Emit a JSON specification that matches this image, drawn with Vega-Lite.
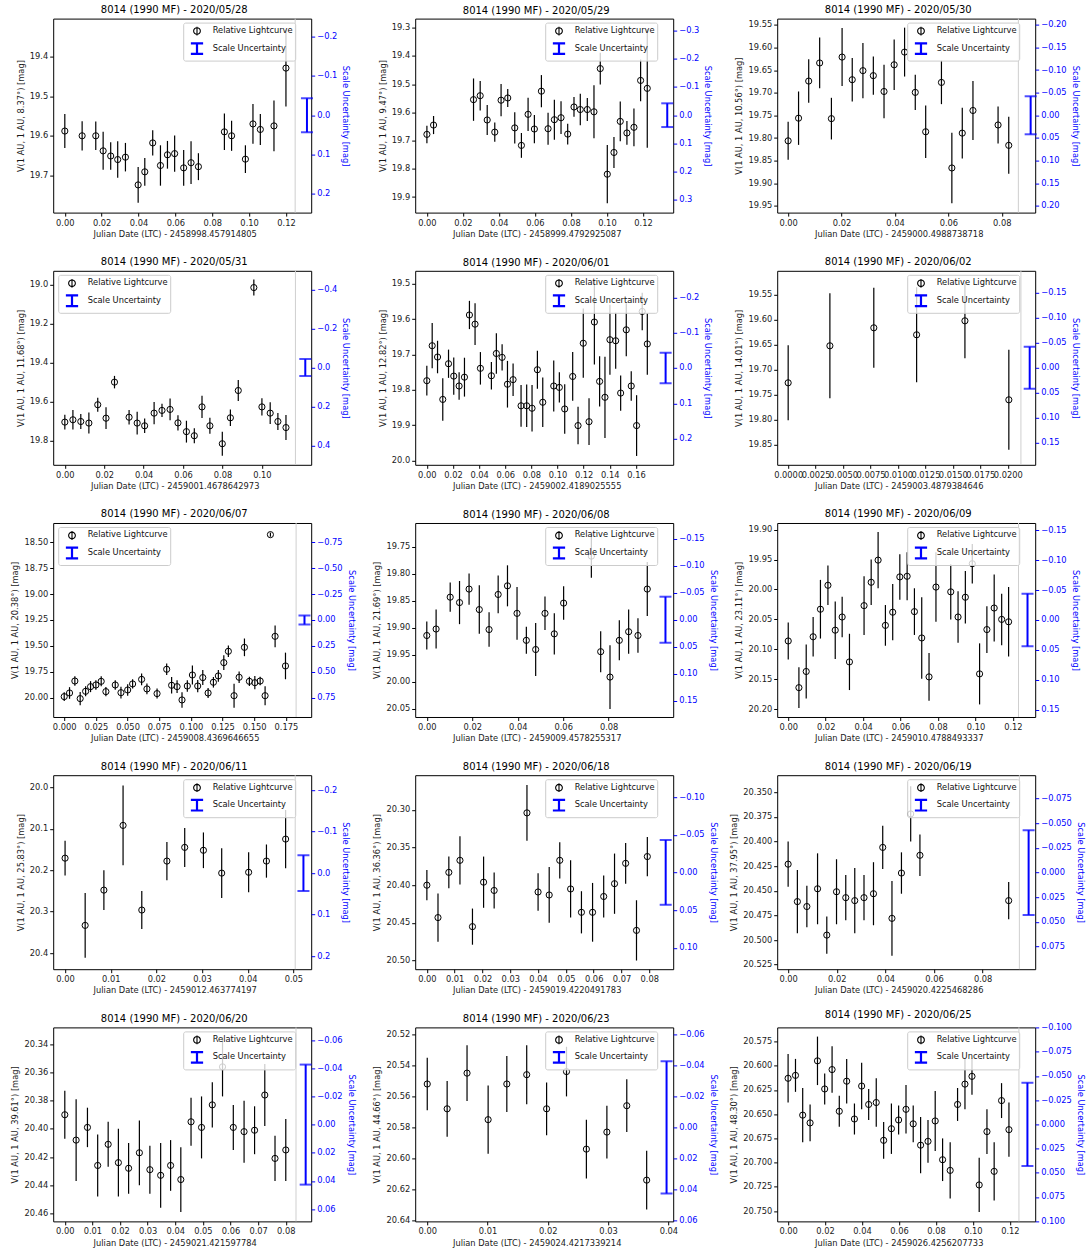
{
"$schema": "https://vega.github.io/schema/vega-lite/v6.json",
"background": "white",
"padding": {"left": 10.2, "top": 4.6, "right": 5, "bottom": 5},
"columns": 3,
"spacing": {"row": 58.2, "column": 104},
"bounds": "flush",
"resolve": {"scale": {"shape": "independent", "stroke": "independent", "strokeWidth": "independent"}},
"datasets": {
"leg": [{"series": "Relative Lightcurve"}, {"series": "Scale Uncertainty"}],
"d1": [{"t":0,"m":19.588,"e":0.043},{"t":0.0094,"m":19.6,"e":0.037},{"t":0.0168,"m":19.6,"e":0.036},{"t":0.0208,"m":19.638,"e":0.048},{"t":0.0249,"m":19.651,"e":0.035},{"t":0.0287,"m":19.66,"e":0.046},{"t":0.0329,"m":19.654,"e":0.036},{"t":0.0398,"m":19.724,"e":0.045},{"t":0.0434,"m":19.691,"e":0.035},{"t":0.0477,"m":19.618,"e":0.032},{"t":0.0519,"m":19.675,"e":0.051},{"t":0.0557,"m":19.648,"e":0.035},{"t":0.0596,"m":19.645,"e":0.046},{"t":0.0645,"m":19.681,"e":0.045},{"t":0.0685,"m":19.668,"e":0.054},{"t":0.0725,"m":19.678,"e":0.034},{"t":0.0866,"m":19.59,"e":0.046},{"t":0.0905,"m":19.6,"e":0.038},{"t":0.098,"m":19.659,"e":0.035},{"t":0.1021,"m":19.57,"e":0.05},{"t":0.1061,"m":19.584,"e":0.039},{"t":0.1135,"m":19.575,"e":0.064},{"t":0.12,"m":19.429,"e":0.097}],
"d2": [{"t":0,"m":19.678,"e":0.031},{"t":0.0037,"m":19.645,"e":0.032},{"t":0.0259,"m":19.555,"e":0.075},{"t":0.0296,"m":19.541,"e":0.052},{"t":0.0335,"m":19.627,"e":0.053},{"t":0.0377,"m":19.67,"e":0.034},{"t":0.0412,"m":19.557,"e":0.057},{"t":0.0449,"m":19.549,"e":0.032},{"t":0.0488,"m":19.655,"e":0.055},{"t":0.0525,"m":19.717,"e":0.044},{"t":0.0562,"m":19.607,"e":0.059},{"t":0.0597,"m":19.659,"e":0.05},{"t":0.0636,"m":19.525,"e":0.057},{"t":0.0673,"m":19.658,"e":0.057},{"t":0.0708,"m":19.626,"e":0.071},{"t":0.0745,"m":19.619,"e":0.058},{"t":0.0782,"m":19.677,"e":0.037},{"t":0.0817,"m":19.581,"e":0.035},{"t":0.0852,"m":19.59,"e":0.056},{"t":0.0891,"m":19.59,"e":0.041},{"t":0.0928,"m":19.598,"e":0.094},{"t":0.0963,"m":19.445,"e":0.056},{"t":0.1002,"m":19.819,"e":0.103},{"t":0.1039,"m":19.742,"e":0.055},{"t":0.1074,"m":19.632,"e":0.07},{"t":0.1111,"m":19.673,"e":0.042},{"t":0.115,"m":19.653,"e":0.067},{"t":0.1187,"m":19.487,"e":0.074},{"t":0.1224,"m":19.515,"e":0.21}],
"d3": [{"t":0,"m":19.806,"e":0.042},{"t":0.0039,"m":19.756,"e":0.059},{"t":0.0077,"m":19.674,"e":0.048},{"t":0.0118,"m":19.634,"e":0.056},{"t":0.0162,"m":19.757,"e":0.046},{"t":0.0202,"m":19.621,"e":0.064},{"t":0.024,"m":19.671,"e":0.048},{"t":0.028,"m":19.651,"e":0.061},{"t":0.0319,"m":19.662,"e":0.042},{"t":0.0359,"m":19.697,"e":0.059},{"t":0.0397,"m":19.638,"e":0.056},{"t":0.0436,"m":19.61,"e":0.054},{"t":0.0476,"m":19.699,"e":0.039},{"t":0.0515,"m":19.786,"e":0.058},{"t":0.0574,"m":19.677,"e":0.048},{"t":0.0613,"m":19.866,"e":0.078},{"t":0.0652,"m":19.789,"e":0.056},{"t":0.0692,"m":19.739,"e":0.065},{"t":0.0786,"m":19.771,"e":0.041},{"t":0.0826,"m":19.816,"e":0.063}],
"d4": [{"t":0,"m":19.704,"e":0.038},{"t":0.0041,"m":19.692,"e":0.05},{"t":0.0081,"m":19.701,"e":0.039},{"t":0.0122,"m":19.709,"e":0.054},{"t":0.0167,"m":19.615,"e":0.036},{"t":0.0209,"m":19.684,"e":0.056},{"t":0.0252,"m":19.499,"e":0.032},{"t":0.0326,"m":19.679,"e":0.037},{"t":0.0367,"m":19.709,"e":0.058},{"t":0.0405,"m":19.723,"e":0.037},{"t":0.0453,"m":19.658,"e":0.057},{"t":0.0493,"m":19.644,"e":0.034},{"t":0.0534,"m":19.639,"e":0.056},{"t":0.0574,"m":19.708,"e":0.039},{"t":0.0617,"m":19.753,"e":0.056},{"t":0.0657,"m":19.774,"e":0.039},{"t":0.0696,"m":19.626,"e":0.057},{"t":0.0736,"m":19.723,"e":0.041},{"t":0.0799,"m":19.815,"e":0.062},{"t":0.084,"m":19.682,"e":0.042},{"t":0.088,"m":19.542,"e":0.054},{"t":0.0959,"m":19.014,"e":0.041},{"t":0.1,"m":19.626,"e":0.044},{"t":0.1042,"m":19.658,"e":0.056},{"t":0.1081,"m":19.701,"e":0.044},{"t":0.1122,"m":19.732,"e":0.064}],
"d5": [{"t":0,"m":19.774,"e":0.042},{"t":0.0041,"m":19.675,"e":0.064},{"t":0.0082,"m":19.707,"e":0.046},{"t":0.0122,"m":19.827,"e":0.06},{"t":0.0166,"m":19.726,"e":0.04},{"t":0.0206,"m":19.761,"e":0.053},{"t":0.0247,"m":19.789,"e":0.039},{"t":0.0288,"m":19.764,"e":0.055},{"t":0.0326,"m":19.588,"e":0.04},{"t":0.0369,"m":19.614,"e":0.059},{"t":0.041,"m":19.739,"e":0.046},{"t":0.0494,"m":19.76,"e":0.039},{"t":0.0532,"m":19.697,"e":0.057},{"t":0.0576,"m":19.708,"e":0.037},{"t":0.0617,"m":19.784,"e":0.066},{"t":0.066,"m":19.771,"e":0.046},{"t":0.0721,"m":19.845,"e":0.059},{"t":0.0764,"m":19.845,"e":0.06},{"t":0.0805,"m":19.852,"e":0.066},{"t":0.0846,"m":19.743,"e":0.054},{"t":0.0887,"m":19.835,"e":0.07},{"t":0.0971,"m":19.789,"e":0.072},{"t":0.1014,"m":19.793,"e":0.043},{"t":0.1055,"m":19.854,"e":0.07},{"t":0.1116,"m":19.762,"e":0.069},{"t":0.1157,"m":19.901,"e":0.053},{"t":0.1197,"m":19.668,"e":0.098},{"t":0.1241,"m":19.89,"e":0.066},{"t":0.1282,"m":19.608,"e":0.12},{"t":0.1322,"m":19.776,"e":0.071},{"t":0.1363,"m":19.821,"e":0.115},{"t":0.1401,"m":19.658,"e":0.099},{"t":0.1445,"m":19.661,"e":0.079},{"t":0.1483,"m":19.809,"e":0.05},{"t":0.1526,"m":19.63,"e":0.075},{"t":0.1564,"m":19.789,"e":0.042},{"t":0.1605,"m":19.901,"e":0.086},{"t":0.1648,"m":19.578,"e":0.053},{"t":0.1687,"m":19.67,"e":0.087}],
"d6": [{"t":0,"m":19.726,"e":0.075},{"t":0.0038,"m":19.652,"e":0.105},{"t":0.0078,"m":19.616,"e":0.08},{"t":0.0117,"m":19.63,"e":0.095},{"t":0.0161,"m":19.602,"e":0.075},{"t":0.0201,"m":19.76,"e":0.1}],
"d7": [{"t":0,"m":19.987,"e":0.043},{"t":0.0042,"m":19.952,"e":0.056},{"t":0.0084,"m":19.837,"e":0.046},{"t":0.0126,"m":20.006,"e":0.064},{"t":0.0169,"m":19.936,"e":0.048},{"t":0.0208,"m":19.891,"e":0.053},{"t":0.025,"m":19.875,"e":0.045},{"t":0.0292,"m":19.84,"e":0.048},{"t":0.0329,"m":19.939,"e":0.045},{"t":0.0403,"m":19.875,"e":0.045},{"t":0.0448,"m":19.949,"e":0.056},{"t":0.0501,"m":19.923,"e":0.056},{"t":0.054,"m":19.865,"e":0.045},{"t":0.0611,"m":19.821,"e":0.056},{"t":0.0653,"m":19.913,"e":0.051},{"t":0.0733,"m":19.958,"e":0.048},{"t":0.0809,"m":19.724,"e":0.056},{"t":0.0848,"m":19.878,"e":0.08},{"t":0.0891,"m":19.891,"e":0.061},{"t":0.093,"m":20.019,"e":0.075},{"t":0.0972,"m":19.885,"e":0.056},{"t":0.1012,"m":19.779,"e":0.091},{"t":0.1054,"m":19.885,"e":0.059},{"t":0.1094,"m":19.804,"e":0.072},{"t":0.1136,"m":19.952,"e":0.048},{"t":0.1178,"m":19.849,"e":0.051},{"t":0.1217,"m":19.788,"e":0.056},{"t":0.126,"m":19.66,"e":0.072},{"t":0.1296,"m":19.551,"e":0.056},{"t":0.1341,"m":19.978,"e":0.115},{"t":0.1381,"m":19.801,"e":0.056},{"t":0.1423,"m":19.513,"e":0.085},{"t":0.1462,"m":19.84,"e":0.045},{"t":0.1505,"m":19.853,"e":0.064},{"t":0.1547,"m":19.837,"e":0.04},{"t":0.1586,"m":19.978,"e":0.091},{"t":0.1628,"m":18.429,"e":0.02},{"t":0.1665,"m":19.407,"e":0.104},{"t":0.1747,"m":19.692,"e":0.128}],
"d8": [{"t":0,"m":19.914,"e":0.026},{"t":0.0041,"m":19.902,"e":0.036},{"t":0.0103,"m":19.843,"e":0.027},{"t":0.0144,"m":19.853,"e":0.04},{"t":0.0186,"m":19.828,"e":0.029},{"t":0.0231,"m":19.866,"e":0.045},{"t":0.0274,"m":19.903,"e":0.032},{"t":0.0314,"m":19.838,"e":0.035},{"t":0.0355,"m":19.822,"e":0.038},{"t":0.0397,"m":19.873,"e":0.049},{"t":0.0438,"m":19.923,"e":0.025},{"t":0.0479,"m":19.94,"e":0.049},{"t":0.052,"m":19.873,"e":0.031},{"t":0.0561,"m":19.911,"e":0.038},{"t":0.0602,"m":19.854,"e":0.031},{"t":0.0724,"m":19.767,"e":0.04},{"t":0.0765,"m":19.944,"e":0.038},{"t":0.0806,"m":19.991,"e":0.059},{"t":0.0847,"m":19.923,"e":0.037},{"t":0.0888,"m":19.907,"e":0.041},{"t":0.0929,"m":19.914,"e":0.032},{"t":0.097,"m":19.828,"e":0.05}],
"d9": [{"t":0,"m":20.086,"e":0.031},{"t":0.0057,"m":20.164,"e":0.034},{"t":0.0096,"m":20.137,"e":0.045},{"t":0.0133,"m":20.079,"e":0.033},{"t":0.0172,"m":20.033,"e":0.049},{"t":0.0212,"m":19.993,"e":0.033},{"t":0.0251,"m":20.068,"e":0.048},{"t":0.0288,"m":20.046,"e":0.034},{"t":0.0327,"m":20.121,"e":0.047},{"t":0.0405,"m":20.027,"e":0.049},{"t":0.0443,"m":19.988,"e":0.038},{"t":0.048,"m":19.951,"e":0.047},{"t":0.0519,"m":20.06,"e":0.034},{"t":0.0558,"m":20.038,"e":0.047},{"t":0.0596,"m":19.979,"e":0.038},{"t":0.0635,"m":19.978,"e":0.04},{"t":0.0674,"m":20.037,"e":0.039},{"t":0.0713,"m":20.081,"e":0.068},{"t":0.0752,"m":20.146,"e":0.04},{"t":0.0789,"m":19.996,"e":0.058},{"t":0.0868,"m":20.004,"e":0.046},{"t":0.0907,"m":20.046,"e":0.043},{"t":0.0946,"m":20.013,"e":0.044},{"t":0.0983,"m":19.957,"e":0.033},{"t":0.1022,"m":20.141,"e":0.051},{"t":0.1061,"m":20.067,"e":0.039},{"t":0.11,"m":20.031,"e":0.056},{"t":0.114,"m":20.05,"e":0.043},{"t":0.1177,"m":20.054,"e":0.058}],
"d10": [{"t":0,"m":20.171,"e":0.042},{"t":0.0044,"m":20.333,"e":0.078},{"t":0.0085,"m":20.248,"e":0.048},{"t":0.0127,"m":20.092,"e":0.096},{"t":0.0168,"m":20.296,"e":0.046},{"t":0.0223,"m":20.178,"e":0.046},{"t":0.0262,"m":20.145,"e":0.047},{"t":0.0303,"m":20.152,"e":0.043},{"t":0.0343,"m":20.207,"e":0.06},{"t":0.0402,"m":20.205,"e":0.048},{"t":0.0441,"m":20.178,"e":0.04},{"t":0.0483,"m":20.125,"e":0.07}],
"d11": [{"t":0,"m":20.4,"e":0.02},{"t":0.004,"m":20.443,"e":0.032},{"t":0.0079,"m":20.383,"e":0.021},{"t":0.0119,"m":20.367,"e":0.032},{"t":0.0164,"m":20.455,"e":0.024},{"t":0.0204,"m":20.396,"e":0.034},{"t":0.0242,"m":20.407,"e":0.024},{"t":0.036,"m":20.304,"e":0.037},{"t":0.04,"m":20.409,"e":0.025},{"t":0.044,"m":20.413,"e":0.037},{"t":0.0478,"m":20.367,"e":0.024},{"t":0.0517,"m":20.405,"e":0.038},{"t":0.0556,"m":20.436,"e":0.028},{"t":0.0596,"m":20.436,"e":0.039},{"t":0.0636,"m":20.415,"e":0.028},{"t":0.0675,"m":20.398,"e":0.04},{"t":0.0715,"m":20.371,"e":0.027},{"t":0.0754,"m":20.46,"e":0.04},{"t":0.0793,"m":20.362,"e":0.026}],
"d12": [{"t":0,"m":20.423,"e":0.023},{"t":0.0038,"m":20.461,"e":0.032},{"t":0.0077,"m":20.466,"e":0.021},{"t":0.0121,"m":20.448,"e":0.036},{"t":0.0159,"m":20.495,"e":0.019},{"t":0.0199,"m":20.451,"e":0.033},{"t":0.0237,"m":20.457,"e":0.023},{"t":0.0274,"m":20.46,"e":0.033},{"t":0.0312,"m":20.457,"e":0.023},{"t":0.0351,"m":20.453,"e":0.032},{"t":0.0389,"m":20.406,"e":0.022},{"t":0.0427,"m":20.478,"e":0.038},{"t":0.0466,"m":20.432,"e":0.021},{"t":0.0504,"m":20.372,"e":0.028},{"t":0.0542,"m":20.414,"e":0.021},{"t":0.0907,"m":20.46,"e":0.019}],
"d13": [{"t":0,"m":20.39,"e":0.017},{"t":0.0041,"m":20.408,"e":0.029},{"t":0.0082,"m":20.399,"e":0.014},{"t":0.0119,"m":20.426,"e":0.022},{"t":0.0157,"m":20.411,"e":0.016},{"t":0.0194,"m":20.424,"e":0.024},{"t":0.0231,"m":20.428,"e":0.018},{"t":0.027,"m":20.417,"e":0.023},{"t":0.0308,"m":20.429,"e":0.017},{"t":0.0347,"m":20.433,"e":0.023},{"t":0.0383,"m":20.426,"e":0.018},{"t":0.042,"m":20.436,"e":0.023},{"t":0.0457,"m":20.395,"e":0.017},{"t":0.0495,"m":20.399,"e":0.022},{"t":0.0534,"m":20.383,"e":0.016},{"t":0.0571,"m":20.356,"e":0.021},{"t":0.061,"m":20.399,"e":0.016},{"t":0.0649,"m":20.402,"e":0.022},{"t":0.0687,"m":20.401,"e":0.017},{"t":0.0724,"m":20.376,"e":0.022},{"t":0.0761,"m":20.421,"e":0.016},{"t":0.08,"m":20.415,"e":0.022}],
"d14": [{"t":0,"m":20.552,"e":0.017},{"t":0.0033,"m":20.568,"e":0.018},{"t":0.0066,"m":20.545,"e":0.018},{"t":0.0101,"m":20.575,"e":0.022},{"t":0.0132,"m":20.552,"e":0.018},{"t":0.0165,"m":20.546,"e":0.019},{"t":0.0198,"m":20.568,"e":0.017},{"t":0.0231,"m":20.544,"e":0.016},{"t":0.0264,"m":20.594,"e":0.019},{"t":0.0298,"m":20.583,"e":0.017},{"t":0.0331,"m":20.566,"e":0.017},{"t":0.0364,"m":20.614,"e":0.019}],
"d15": [{"t":0,"m":20.613,"e":0.025},{"t":0.004,"m":20.61,"e":0.017},{"t":0.0079,"m":20.651,"e":0.028},{"t":0.0119,"m":20.659,"e":0.019},{"t":0.0159,"m":20.595,"e":0.025},{"t":0.0198,"m":20.624,"e":0.016},{"t":0.0238,"m":20.604,"e":0.024},{"t":0.0277,"m":20.647,"e":0.016},{"t":0.0317,"m":20.616,"e":0.023},{"t":0.0359,"m":20.655,"e":0.016},{"t":0.0398,"m":20.621,"e":0.024},{"t":0.0436,"m":20.64,"e":0.016},{"t":0.0477,"m":20.638,"e":0.025},{"t":0.0517,"m":20.677,"e":0.019},{"t":0.0559,"m":20.665,"e":0.026},{"t":0.0598,"m":20.656,"e":0.015},{"t":0.0638,"m":20.645,"e":0.025},{"t":0.0677,"m":20.66,"e":0.019},{"t":0.0717,"m":20.682,"e":0.029},{"t":0.0757,"m":20.678,"e":0.022},{"t":0.0796,"m":20.657,"e":0.031},{"t":0.0836,"m":20.697,"e":0.022},{"t":0.0877,"m":20.708,"e":0.029},{"t":0.0917,"m":20.64,"e":0.017},{"t":0.0957,"m":20.619,"e":0.026},{"t":0.0995,"m":20.611,"e":0.019},{"t":0.1034,"m":20.723,"e":0.028},{"t":0.1076,"m":20.668,"e":0.023},{"t":0.1115,"m":20.709,"e":0.03},{"t":0.1155,"m":20.636,"e":0.018},{"t":0.1195,"m":20.666,"e":0.028}]
},
"concat": [
{"title": "8014 (1990 MF) - 2020/05/28", "width": 258, "height": 194, "resolve": {"scale": {"y": "independent"}},
 "layer": [
  {"layer": [
   {"data": {"name": "d1"}, "mark": {"type": "errorbar", "color": "black", "thickness": 1.2},
    "encoding": {"x": {"field": "t", "type": "quantitative", "scale": {"domain": [-0.0063, 0.1337], "nice": false, "zero": false}, "axis": {"labelOverlap": false, "tickCount": 30, "values": [0,0.02,0.04,0.06,0.08,0.1,0.12], "format": ".2f", "title": "Julian Date (LTC) - 2458998.457914805"}},
     "y": {"field": "m", "type": "quantitative", "scale": {"domain": [19.304, 19.794], "reverse": true, "nice": false, "zero": false}, "axis": {"labelOverlap": false, "tickCount": 30, "values": [19.4,19.5,19.6,19.7], "format": ".1f", "title": "V(1 AU, 1 AU, 8.37°) [mag]"}},
     "yError": {"field": "e"}}},
   {"data": {"name": "d1"}, "mark": {"type": "point", "shape": "circle", "filled": false, "color": "black", "size": 38, "strokeWidth": 1, "opacity": 1},
    "encoding": {"x": {"field": "t", "type": "quantitative"}, "y": {"field": "m", "type": "quantitative"}}},
   {"data": {"values": [{}]}, "mark": {"type": "rule", "color": "#cfcfcf", "strokeWidth": 1}, "encoding": {"x": {"datum": 0.125}}},
   {"data": {"name": "leg"}, "mark": {"type": "point", "filled": false, "opacity": 0},
    "encoding": {
     "shape": {"field": "series", "type": "nominal", "scale": {"domain": ["Relative Lightcurve", "Scale Uncertainty"], "range": ["M-0.55,0A0.55,0.55 0 1,1 0.55,0A0.55,0.55 0 1,1 -0.55,0ZM0,-0.72L0,0.72", "M-1,-0.87L1,-0.87M0,-0.87L0,0.87M-1,0.87L1,0.87"]}, "legend": {"title": null, "orient": "none", "legendX": 130, "legendY": 4}},
     "stroke": {"field": "series", "type": "nominal", "scale": {"domain": ["Relative Lightcurve", "Scale Uncertainty"], "range": ["black", "blue"]}, "legend": {"title": null, "orient": "none", "legendX": 130, "legendY": 4}},
     "strokeWidth": {"field": "series", "type": "nominal", "scale": {"type": "point", "domain": ["Relative Lightcurve", "Scale Uncertainty"], "range": [1.1, 2.2]}, "legend": {"title": null, "orient": "none", "legendX": 130, "legendY": 4}}}}
  ]},
  {"data": {"values": [{"t": 0.1314, "o": 0, "e": 0.043}]}, "mark": {"type": "errorbar", "color": "blue", "ticks": true, "thickness": 2, "size": 12},
   "encoding": {"x": {"field": "t", "type": "quantitative"},
    "y": {"field": "o", "type": "quantitative", "scale": {"domain": [-0.2458, 0.2475], "reverse": true, "nice": false, "zero": false}, "axis": {"labelOverlap": false, "tickCount": 30, "orient": "right", "values": [-0.2,-0.1,0,0.1,0.2], "format": ".1f", "title": "Scale Uncertainty [mag]", "labelColor": "blue", "tickColor": "blue", "titleColor": "blue"}},
    "yError": {"field": "e"}}}
 ]},
{"title": "8014 (1990 MF) - 2020/05/29", "width": 258, "height": 194, "resolve": {"scale": {"y": "independent"}},
 "layer": [
  {"layer": [
   {"data": {"name": "d2"}, "mark": {"type": "errorbar", "color": "black", "thickness": 1.2},
    "encoding": {"x": {"field": "t", "type": "quantitative", "scale": {"domain": [-0.0065, 0.1368], "nice": false, "zero": false}, "axis": {"labelOverlap": false, "tickCount": 30, "values": [0,0.02,0.04,0.06,0.08,0.1,0.12], "format": ".2f", "title": "Julian Date (LTC) - 2458999.4792925087"}},
     "y": {"field": "m", "type": "quantitative", "scale": {"domain": [19.268, 19.955], "reverse": true, "nice": false, "zero": false}, "axis": {"labelOverlap": false, "tickCount": 30, "values": [19.3,19.4,19.5,19.6,19.7,19.8,19.9], "format": ".1f", "title": "V(1 AU, 1 AU, 9.47°) [mag]"}},
     "yError": {"field": "e"}}},
   {"data": {"name": "d2"}, "mark": {"type": "point", "shape": "circle", "filled": false, "color": "black", "size": 38, "strokeWidth": 1, "opacity": 1},
    "encoding": {"x": {"field": "t", "type": "quantitative"}, "y": {"field": "m", "type": "quantitative"}}},
   {"data": {"name": "leg"}, "mark": {"type": "point", "filled": false, "opacity": 0},
    "encoding": {
     "shape": {"field": "series", "type": "nominal", "scale": {"domain": ["Relative Lightcurve", "Scale Uncertainty"], "range": ["M-0.55,0A0.55,0.55 0 1,1 0.55,0A0.55,0.55 0 1,1 -0.55,0ZM0,-0.72L0,0.72", "M-1,-0.87L1,-0.87M0,-0.87L0,0.87M-1,0.87L1,0.87"]}, "legend": {"title": null, "orient": "none", "legendX": 130, "legendY": 4}},
     "stroke": {"field": "series", "type": "nominal", "scale": {"domain": ["Relative Lightcurve", "Scale Uncertainty"], "range": ["black", "blue"]}, "legend": {"title": null, "orient": "none", "legendX": 130, "legendY": 4}},
     "strokeWidth": {"field": "series", "type": "nominal", "scale": {"type": "point", "domain": ["Relative Lightcurve", "Scale Uncertainty"], "range": [1.1, 2.2]}, "legend": {"title": null, "orient": "none", "legendX": 130, "legendY": 4}}}}
  ]},
  {"data": {"values": [{"t": 0.1335, "o": 0, "e": 0.042}]}, "mark": {"type": "errorbar", "color": "blue", "ticks": true, "thickness": 2, "size": 12},
   "encoding": {"x": {"field": "t", "type": "quantitative"},
    "y": {"field": "o", "type": "quantitative", "scale": {"domain": [-0.342, 0.345], "reverse": true, "nice": false, "zero": false}, "axis": {"labelOverlap": false, "tickCount": 30, "orient": "right", "values": [-0.3,-0.2,-0.1,0,0.1,0.2,0.3], "format": ".1f", "title": "Scale Uncertainty [mag]", "labelColor": "blue", "tickColor": "blue", "titleColor": "blue"}},
    "yError": {"field": "e"}}}
 ]},
{"title": "8014 (1990 MF) - 2020/05/30", "width": 258, "height": 194, "resolve": {"scale": {"y": "independent"}},
 "layer": [
  {"layer": [
   {"data": {"name": "d3"}, "mark": {"type": "errorbar", "color": "black", "thickness": 1.2},
    "encoding": {"x": {"field": "t", "type": "quantitative", "scale": {"domain": [-0.0041, 0.0925], "nice": false, "zero": false}, "axis": {"labelOverlap": false, "tickCount": 30, "values": [0,0.02,0.04,0.06,0.08], "format": ".2f", "title": "Julian Date (LTC) - 2459000.4988738718"}},
     "y": {"field": "m", "type": "quantitative", "scale": {"domain": [19.536, 19.9646], "reverse": true, "nice": false, "zero": false}, "axis": {"labelOverlap": false, "tickCount": 30, "values": [19.55,19.6,19.65,19.7,19.75,19.8,19.85,19.9,19.95], "format": ".2f", "title": "V(1 AU, 1 AU, 10.56°) [mag]"}},
     "yError": {"field": "e"}}},
   {"data": {"name": "d3"}, "mark": {"type": "point", "shape": "circle", "filled": false, "color": "black", "size": 38, "strokeWidth": 1, "opacity": 1},
    "encoding": {"x": {"field": "t", "type": "quantitative"}, "y": {"field": "m", "type": "quantitative"}}},
   {"data": {"values": [{}]}, "mark": {"type": "rule", "color": "#cfcfcf", "strokeWidth": 1}, "encoding": {"x": {"datum": 0.0862}}},
   {"data": {"name": "leg"}, "mark": {"type": "point", "filled": false, "opacity": 0},
    "encoding": {
     "shape": {"field": "series", "type": "nominal", "scale": {"domain": ["Relative Lightcurve", "Scale Uncertainty"], "range": ["M-0.55,0A0.55,0.55 0 1,1 0.55,0A0.55,0.55 0 1,1 -0.55,0ZM0,-0.72L0,0.72", "M-1,-0.87L1,-0.87M0,-0.87L0,0.87M-1,0.87L1,0.87"]}, "legend": {"title": null, "orient": "none", "legendX": 130, "legendY": 4}},
     "stroke": {"field": "series", "type": "nominal", "scale": {"domain": ["Relative Lightcurve", "Scale Uncertainty"], "range": ["black", "blue"]}, "legend": {"title": null, "orient": "none", "legendX": 130, "legendY": 4}},
     "strokeWidth": {"field": "series", "type": "nominal", "scale": {"type": "point", "domain": ["Relative Lightcurve", "Scale Uncertainty"], "range": [1.1, 2.2]}, "legend": {"title": null, "orient": "none", "legendX": 130, "legendY": 4}}}}
  ]},
  {"data": {"values": [{"t": 0.0908, "o": 0, "e": 0.042}]}, "mark": {"type": "errorbar", "color": "blue", "ticks": true, "thickness": 2, "size": 12},
   "encoding": {"x": {"field": "t", "type": "quantitative"},
    "y": {"field": "o", "type": "quantitative", "scale": {"domain": [-0.2136, 0.215], "reverse": true, "nice": false, "zero": false}, "axis": {"labelOverlap": false, "tickCount": 30, "orient": "right", "values": [-0.2,-0.15,-0.1,-0.05,0,0.05,0.1,0.15,0.2], "format": ".2f", "title": "Scale Uncertainty [mag]", "labelColor": "blue", "tickColor": "blue", "titleColor": "blue"}},
    "yError": {"field": "e"}}}
 ]},
{"title": "8014 (1990 MF) - 2020/05/31", "width": 258, "height": 194, "resolve": {"scale": {"y": "independent"}},
 "layer": [
  {"layer": [
   {"data": {"name": "d4"}, "mark": {"type": "errorbar", "color": "black", "thickness": 1.2},
    "encoding": {"x": {"field": "t", "type": "quantitative", "scale": {"domain": [-0.0059, 0.125], "nice": false, "zero": false}, "axis": {"labelOverlap": false, "tickCount": 30, "values": [0,0.02,0.04,0.06,0.08,0.1], "format": ".2f", "title": "Julian Date (LTC) - 2459001.4678642973"}},
     "y": {"field": "m", "type": "quantitative", "scale": {"domain": [18.928, 19.923], "reverse": true, "nice": false, "zero": false}, "axis": {"labelOverlap": false, "tickCount": 30, "values": [19.0,19.2,19.4,19.6,19.8], "format": ".1f", "title": "V(1 AU, 1 AU, 11.68°) [mag]"}},
     "yError": {"field": "e"}}},
   {"data": {"name": "d4"}, "mark": {"type": "point", "shape": "circle", "filled": false, "color": "black", "size": 38, "strokeWidth": 1, "opacity": 1},
    "encoding": {"x": {"field": "t", "type": "quantitative"}, "y": {"field": "m", "type": "quantitative"}}},
   {"data": {"values": [{}]}, "mark": {"type": "rule", "color": "#cfcfcf", "strokeWidth": 1}, "encoding": {"x": {"datum": 0.117}}},
   {"data": {"name": "leg"}, "mark": {"type": "point", "filled": false, "opacity": 0},
    "encoding": {
     "shape": {"field": "series", "type": "nominal", "scale": {"domain": ["Relative Lightcurve", "Scale Uncertainty"], "range": ["M-0.55,0A0.55,0.55 0 1,1 0.55,0A0.55,0.55 0 1,1 -0.55,0ZM0,-0.72L0,0.72", "M-1,-0.87L1,-0.87M0,-0.87L0,0.87M-1,0.87L1,0.87"]}, "legend": {"title": null, "orient": "none", "legendX": 5, "legendY": 4}},
     "stroke": {"field": "series", "type": "nominal", "scale": {"domain": ["Relative Lightcurve", "Scale Uncertainty"], "range": ["black", "blue"]}, "legend": {"title": null, "orient": "none", "legendX": 5, "legendY": 4}},
     "strokeWidth": {"field": "series", "type": "nominal", "scale": {"type": "point", "domain": ["Relative Lightcurve", "Scale Uncertainty"], "range": [1.1, 2.2]}, "legend": {"title": null, "orient": "none", "legendX": 5, "legendY": 4}}}}
  ]},
  {"data": {"values": [{"t": 0.122, "o": 0, "e": 0.043}]}, "mark": {"type": "errorbar", "color": "blue", "ticks": true, "thickness": 2, "size": 12},
   "encoding": {"x": {"field": "t", "type": "quantitative"},
    "y": {"field": "o", "type": "quantitative", "scale": {"domain": [-0.496, 0.499], "reverse": true, "nice": false, "zero": false}, "axis": {"labelOverlap": false, "tickCount": 30, "orient": "right", "values": [-0.4,-0.2,0,0.2,0.4], "format": ".1f", "title": "Scale Uncertainty [mag]", "labelColor": "blue", "tickColor": "blue", "titleColor": "blue"}},
    "yError": {"field": "e"}}}
 ]},
{"title": "8014 (1990 MF) - 2020/06/01", "width": 258, "height": 194, "resolve": {"scale": {"y": "independent"}},
 "layer": [
  {"layer": [
   {"data": {"name": "d5"}, "mark": {"type": "errorbar", "color": "black", "thickness": 1.2},
    "encoding": {"x": {"field": "t", "type": "quantitative", "scale": {"domain": [-0.0089, 0.1885], "nice": false, "zero": false}, "axis": {"labelOverlap": false, "tickCount": 30, "values": [0,0.02,0.04,0.06,0.08,0.1,0.12,0.14,0.16], "format": ".2f", "title": "Julian Date (LTC) - 2459002.4189025555"}},
     "y": {"field": "m", "type": "quantitative", "scale": {"domain": [19.463, 20.012], "reverse": true, "nice": false, "zero": false}, "axis": {"labelOverlap": false, "tickCount": 30, "values": [19.5,19.6,19.7,19.8,19.9,20.0], "format": ".1f", "title": "V(1 AU, 1 AU, 12.82°) [mag]"}},
     "yError": {"field": "e"}}},
   {"data": {"name": "d5"}, "mark": {"type": "point", "shape": "circle", "filled": false, "color": "black", "size": 38, "strokeWidth": 1, "opacity": 1},
    "encoding": {"x": {"field": "t", "type": "quantitative"}, "y": {"field": "m", "type": "quantitative"}}},
   {"data": {"name": "leg"}, "mark": {"type": "point", "filled": false, "opacity": 0},
    "encoding": {
     "shape": {"field": "series", "type": "nominal", "scale": {"domain": ["Relative Lightcurve", "Scale Uncertainty"], "range": ["M-0.55,0A0.55,0.55 0 1,1 0.55,0A0.55,0.55 0 1,1 -0.55,0ZM0,-0.72L0,0.72", "M-1,-0.87L1,-0.87M0,-0.87L0,0.87M-1,0.87L1,0.87"]}, "legend": {"title": null, "orient": "none", "legendX": 130, "legendY": 4}},
     "stroke": {"field": "series", "type": "nominal", "scale": {"domain": ["Relative Lightcurve", "Scale Uncertainty"], "range": ["black", "blue"]}, "legend": {"title": null, "orient": "none", "legendX": 130, "legendY": 4}},
     "strokeWidth": {"field": "series", "type": "nominal", "scale": {"type": "point", "domain": ["Relative Lightcurve", "Scale Uncertainty"], "range": [1.1, 2.2]}, "legend": {"title": null, "orient": "none", "legendX": 130, "legendY": 4}}}}
  ]},
  {"data": {"values": [{"t": 0.1827, "o": 0, "e": 0.043}]}, "mark": {"type": "errorbar", "color": "blue", "ticks": true, "thickness": 2, "size": 12},
   "encoding": {"x": {"field": "t", "type": "quantitative"},
    "y": {"field": "o", "type": "quantitative", "scale": {"domain": [-0.275, 0.274], "reverse": true, "nice": false, "zero": false}, "axis": {"labelOverlap": false, "tickCount": 30, "orient": "right", "values": [-0.2,-0.1,0,0.1,0.2], "format": ".1f", "title": "Scale Uncertainty [mag]", "labelColor": "blue", "tickColor": "blue", "titleColor": "blue"}},
    "yError": {"field": "e"}}}
 ]},
{"title": "8014 (1990 MF) - 2020/06/02", "width": 258, "height": 194, "resolve": {"scale": {"y": "independent"}},
 "layer": [
  {"layer": [
   {"data": {"name": "d6"}, "mark": {"type": "errorbar", "color": "black", "thickness": 1.2},
    "encoding": {"x": {"field": "t", "type": "quantitative", "scale": {"domain": [-0.001, 0.0225], "nice": false, "zero": false}, "axis": {"labelOverlap": false, "tickCount": 30, "values": [0,0.0025,0.005,0.0075,0.01,0.0125,0.015,0.0175,0.02], "format": ".4f", "title": "Julian Date (LTC) - 2459003.4879384646"}},
     "y": {"field": "m", "type": "quantitative", "scale": {"domain": [19.502, 19.89], "reverse": true, "nice": false, "zero": false}, "axis": {"labelOverlap": false, "tickCount": 30, "values": [19.55,19.6,19.65,19.7,19.75,19.8,19.85], "format": ".2f", "title": "V(1 AU, 1 AU, 14.01°) [mag]"}},
     "yError": {"field": "e"}}},
   {"data": {"name": "d6"}, "mark": {"type": "point", "shape": "circle", "filled": false, "color": "black", "size": 38, "strokeWidth": 1, "opacity": 1},
    "encoding": {"x": {"field": "t", "type": "quantitative"}, "y": {"field": "m", "type": "quantitative"}}},
   {"data": {"values": [{}]}, "mark": {"type": "rule", "color": "#cfcfcf", "strokeWidth": 1}, "encoding": {"x": {"datum": 0.0212}}},
   {"data": {"name": "leg"}, "mark": {"type": "point", "filled": false, "opacity": 0},
    "encoding": {
     "shape": {"field": "series", "type": "nominal", "scale": {"domain": ["Relative Lightcurve", "Scale Uncertainty"], "range": ["M-0.55,0A0.55,0.55 0 1,1 0.55,0A0.55,0.55 0 1,1 -0.55,0ZM0,-0.72L0,0.72", "M-1,-0.87L1,-0.87M0,-0.87L0,0.87M-1,0.87L1,0.87"]}, "legend": {"title": null, "orient": "none", "legendX": 130, "legendY": 4}},
     "stroke": {"field": "series", "type": "nominal", "scale": {"domain": ["Relative Lightcurve", "Scale Uncertainty"], "range": ["black", "blue"]}, "legend": {"title": null, "orient": "none", "legendX": 130, "legendY": 4}},
     "strokeWidth": {"field": "series", "type": "nominal", "scale": {"type": "point", "domain": ["Relative Lightcurve", "Scale Uncertainty"], "range": [1.1, 2.2]}, "legend": {"title": null, "orient": "none", "legendX": 130, "legendY": 4}}}}
  ]},
  {"data": {"values": [{"t": 0.022, "o": 0, "e": 0.042}]}, "mark": {"type": "errorbar", "color": "blue", "ticks": true, "thickness": 2, "size": 12},
   "encoding": {"x": {"field": "t", "type": "quantitative"},
    "y": {"field": "o", "type": "quantitative", "scale": {"domain": [-0.194, 0.194], "reverse": true, "nice": false, "zero": false}, "axis": {"labelOverlap": false, "tickCount": 30, "orient": "right", "values": [-0.15,-0.1,-0.05,0,0.05,0.1,0.15], "format": ".2f", "title": "Scale Uncertainty [mag]", "labelColor": "blue", "tickColor": "blue", "titleColor": "blue"}},
    "yError": {"field": "e"}}}
 ]},
{"title": "8014 (1990 MF) - 2020/06/07", "width": 258, "height": 194, "resolve": {"scale": {"y": "independent"}},
 "layer": [
  {"layer": [
   {"data": {"name": "d7"}, "mark": {"type": "errorbar", "color": "black", "thickness": 1.2},
    "encoding": {"x": {"field": "t", "type": "quantitative", "scale": {"domain": [-0.0087, 0.195], "nice": false, "zero": false}, "axis": {"labelOverlap": false, "tickCount": 30, "values": [0,0.025,0.05,0.075,0.1,0.125,0.15,0.175], "format": ".3f", "title": "Julian Date (LTC) - 2459008.4369646655"}},
     "y": {"field": "m", "type": "quantitative", "scale": {"domain": [18.317, 20.183], "reverse": true, "nice": false, "zero": false}, "axis": {"labelOverlap": false, "tickCount": 30, "values": [18.5,18.75,19.0,19.25,19.5,19.75,20.0], "format": ".2f", "title": "V(1 AU, 1 AU, 20.38°) [mag]"}},
     "yError": {"field": "e"}}},
   {"data": {"name": "d7"}, "mark": {"type": "point", "shape": "circle", "filled": false, "color": "black", "size": 38, "strokeWidth": 1, "opacity": 1},
    "encoding": {"x": {"field": "t", "type": "quantitative"}, "y": {"field": "m", "type": "quantitative"}}},
   {"data": {"values": [{}]}, "mark": {"type": "rule", "color": "#cfcfcf", "strokeWidth": 1}, "encoding": {"x": {"datum": 0.1831}}},
   {"data": {"name": "leg"}, "mark": {"type": "point", "filled": false, "opacity": 0},
    "encoding": {
     "shape": {"field": "series", "type": "nominal", "scale": {"domain": ["Relative Lightcurve", "Scale Uncertainty"], "range": ["M-0.55,0A0.55,0.55 0 1,1 0.55,0A0.55,0.55 0 1,1 -0.55,0ZM0,-0.72L0,0.72", "M-1,-0.87L1,-0.87M0,-0.87L0,0.87M-1,0.87L1,0.87"]}, "legend": {"title": null, "orient": "none", "legendX": 5, "legendY": 4}},
     "stroke": {"field": "series", "type": "nominal", "scale": {"domain": ["Relative Lightcurve", "Scale Uncertainty"], "range": ["black", "blue"]}, "legend": {"title": null, "orient": "none", "legendX": 5, "legendY": 4}},
     "strokeWidth": {"field": "series", "type": "nominal", "scale": {"type": "point", "domain": ["Relative Lightcurve", "Scale Uncertainty"], "range": [1.1, 2.2]}, "legend": {"title": null, "orient": "none", "legendX": 5, "legendY": 4}}}}
  ]},
  {"data": {"values": [{"t": 0.1897, "o": 0, "e": 0.043}]}, "mark": {"type": "errorbar", "color": "blue", "ticks": true, "thickness": 2, "size": 12},
   "encoding": {"x": {"field": "t", "type": "quantitative"},
    "y": {"field": "o", "type": "quantitative", "scale": {"domain": [-0.933, 0.933], "reverse": true, "nice": false, "zero": false}, "axis": {"labelOverlap": false, "tickCount": 30, "orient": "right", "values": [-0.75,-0.5,-0.25,0,0.25,0.5,0.75], "format": ".2f", "title": "Scale Uncertainty [mag]", "labelColor": "blue", "tickColor": "blue", "titleColor": "blue"}},
    "yError": {"field": "e"}}}
 ]},
{"title": "8014 (1990 MF) - 2020/06/08", "width": 258, "height": 194, "resolve": {"scale": {"y": "independent"}},
 "layer": [
  {"layer": [
   {"data": {"name": "d8"}, "mark": {"type": "errorbar", "color": "black", "thickness": 1.2},
    "encoding": {"x": {"field": "t", "type": "quantitative", "scale": {"domain": [-0.0051, 0.1084], "nice": false, "zero": false}, "axis": {"labelOverlap": false, "tickCount": 30, "values": [0,0.02,0.04,0.06,0.08], "format": ".2f", "title": "Julian Date (LTC) - 2459009.4578255317"}},
     "y": {"field": "m", "type": "quantitative", "scale": {"domain": [19.7056, 20.065], "reverse": true, "nice": false, "zero": false}, "axis": {"labelOverlap": false, "tickCount": 30, "values": [19.75,19.8,19.85,19.9,19.95,20.0,20.05], "format": ".2f", "title": "V(1 AU, 1 AU, 21.69°) [mag]"}},
     "yError": {"field": "e"}}},
   {"data": {"name": "d8"}, "mark": {"type": "point", "shape": "circle", "filled": false, "color": "black", "size": 38, "strokeWidth": 1, "opacity": 1},
    "encoding": {"x": {"field": "t", "type": "quantitative"}, "y": {"field": "m", "type": "quantitative"}}},
   {"data": {"name": "leg"}, "mark": {"type": "point", "filled": false, "opacity": 0},
    "encoding": {
     "shape": {"field": "series", "type": "nominal", "scale": {"domain": ["Relative Lightcurve", "Scale Uncertainty"], "range": ["M-0.55,0A0.55,0.55 0 1,1 0.55,0A0.55,0.55 0 1,1 -0.55,0ZM0,-0.72L0,0.72", "M-1,-0.87L1,-0.87M0,-0.87L0,0.87M-1,0.87L1,0.87"]}, "legend": {"title": null, "orient": "none", "legendX": 130, "legendY": 4}},
     "stroke": {"field": "series", "type": "nominal", "scale": {"domain": ["Relative Lightcurve", "Scale Uncertainty"], "range": ["black", "blue"]}, "legend": {"title": null, "orient": "none", "legendX": 130, "legendY": 4}},
     "strokeWidth": {"field": "series", "type": "nominal", "scale": {"type": "point", "domain": ["Relative Lightcurve", "Scale Uncertainty"], "range": [1.1, 2.2]}, "legend": {"title": null, "orient": "none", "legendX": 130, "legendY": 4}}}}
  ]},
  {"data": {"values": [{"t": 0.105, "o": 0, "e": 0.0426}]}, "mark": {"type": "errorbar", "color": "blue", "ticks": true, "thickness": 2, "size": 12},
   "encoding": {"x": {"field": "t", "type": "quantitative"},
    "y": {"field": "o", "type": "quantitative", "scale": {"domain": [-0.179, 0.18], "reverse": true, "nice": false, "zero": false}, "axis": {"labelOverlap": false, "tickCount": 30, "orient": "right", "values": [-0.15,-0.1,-0.05,0,0.05,0.1,0.15], "format": ".2f", "title": "Scale Uncertainty [mag]", "labelColor": "blue", "tickColor": "blue", "titleColor": "blue"}},
    "yError": {"field": "e"}}}
 ]},
{"title": "8014 (1990 MF) - 2020/06/09", "width": 258, "height": 194, "resolve": {"scale": {"y": "independent"}},
 "layer": [
  {"layer": [
   {"data": {"name": "d9"}, "mark": {"type": "errorbar", "color": "black", "thickness": 1.2},
    "encoding": {"x": {"field": "t", "type": "quantitative", "scale": {"domain": [-0.0059, 0.1319], "nice": false, "zero": false}, "axis": {"labelOverlap": false, "tickCount": 30, "values": [0,0.02,0.04,0.06,0.08,0.1,0.12], "format": ".2f", "title": "Julian Date (LTC) - 2459010.4788493337"}},
     "y": {"field": "m", "type": "quantitative", "scale": {"domain": [19.889, 20.213], "reverse": true, "nice": false, "zero": false}, "axis": {"labelOverlap": false, "tickCount": 30, "values": [19.9,19.95,20.0,20.05,20.1,20.15,20.2], "format": ".2f", "title": "V(1 AU, 1 AU, 23.11°) [mag]"}},
     "yError": {"field": "e"}}},
   {"data": {"name": "d9"}, "mark": {"type": "point", "shape": "circle", "filled": false, "color": "black", "size": 38, "strokeWidth": 1, "opacity": 1},
    "encoding": {"x": {"field": "t", "type": "quantitative"}, "y": {"field": "m", "type": "quantitative"}}},
   {"data": {"values": [{}]}, "mark": {"type": "rule", "color": "#cfcfcf", "strokeWidth": 1}, "encoding": {"x": {"datum": 0.123}}},
   {"data": {"name": "leg"}, "mark": {"type": "point", "filled": false, "opacity": 0},
    "encoding": {
     "shape": {"field": "series", "type": "nominal", "scale": {"domain": ["Relative Lightcurve", "Scale Uncertainty"], "range": ["M-0.55,0A0.55,0.55 0 1,1 0.55,0A0.55,0.55 0 1,1 -0.55,0ZM0,-0.72L0,0.72", "M-1,-0.87L1,-0.87M0,-0.87L0,0.87M-1,0.87L1,0.87"]}, "legend": {"title": null, "orient": "none", "legendX": 130, "legendY": 4}},
     "stroke": {"field": "series", "type": "nominal", "scale": {"domain": ["Relative Lightcurve", "Scale Uncertainty"], "range": ["black", "blue"]}, "legend": {"title": null, "orient": "none", "legendX": 130, "legendY": 4}},
     "strokeWidth": {"field": "series", "type": "nominal", "scale": {"type": "point", "domain": ["Relative Lightcurve", "Scale Uncertainty"], "range": [1.1, 2.2]}, "legend": {"title": null, "orient": "none", "legendX": 130, "legendY": 4}}}}
  ]},
  {"data": {"values": [{"t": 0.1278, "o": 0, "e": 0.044}]}, "mark": {"type": "errorbar", "color": "blue", "ticks": true, "thickness": 2, "size": 12},
   "encoding": {"x": {"field": "t", "type": "quantitative"},
    "y": {"field": "o", "type": "quantitative", "scale": {"domain": [-0.162, 0.162], "reverse": true, "nice": false, "zero": false}, "axis": {"labelOverlap": false, "tickCount": 30, "orient": "right", "values": [-0.15,-0.1,-0.05,0,0.05,0.1,0.15], "format": ".2f", "title": "Scale Uncertainty [mag]", "labelColor": "blue", "tickColor": "blue", "titleColor": "blue"}},
    "yError": {"field": "e"}}}
 ]},
{"title": "8014 (1990 MF) - 2020/06/11", "width": 258, "height": 194, "resolve": {"scale": {"y": "independent"}},
 "layer": [
  {"layer": [
   {"data": {"name": "d10"}, "mark": {"type": "errorbar", "color": "black", "thickness": 1.2},
    "encoding": {"x": {"field": "t", "type": "quantitative", "scale": {"domain": [-0.0026, 0.0539], "nice": false, "zero": false}, "axis": {"labelOverlap": false, "tickCount": 30, "values": [0,0.01,0.02,0.03,0.04,0.05], "format": ".2f", "title": "Julian Date (LTC) - 2459012.463774197"}},
     "y": {"field": "m", "type": "quantitative", "scale": {"domain": [19.971, 20.4386], "reverse": true, "nice": false, "zero": false}, "axis": {"labelOverlap": false, "tickCount": 30, "values": [20.0,20.1,20.2,20.3,20.4], "format": ".1f", "title": "V(1 AU, 1 AU, 25.83°) [mag]"}},
     "yError": {"field": "e"}}},
   {"data": {"name": "d10"}, "mark": {"type": "point", "shape": "circle", "filled": false, "color": "black", "size": 38, "strokeWidth": 1, "opacity": 1},
    "encoding": {"x": {"field": "t", "type": "quantitative"}, "y": {"field": "m", "type": "quantitative"}}},
   {"data": {"values": [{}]}, "mark": {"type": "rule", "color": "#cfcfcf", "strokeWidth": 1}, "encoding": {"x": {"datum": 0.0504}}},
   {"data": {"name": "leg"}, "mark": {"type": "point", "filled": false, "opacity": 0},
    "encoding": {
     "shape": {"field": "series", "type": "nominal", "scale": {"domain": ["Relative Lightcurve", "Scale Uncertainty"], "range": ["M-0.55,0A0.55,0.55 0 1,1 0.55,0A0.55,0.55 0 1,1 -0.55,0ZM0,-0.72L0,0.72", "M-1,-0.87L1,-0.87M0,-0.87L0,0.87M-1,0.87L1,0.87"]}, "legend": {"title": null, "orient": "none", "legendX": 130, "legendY": 4}},
     "stroke": {"field": "series", "type": "nominal", "scale": {"domain": ["Relative Lightcurve", "Scale Uncertainty"], "range": ["black", "blue"]}, "legend": {"title": null, "orient": "none", "legendX": 130, "legendY": 4}},
     "strokeWidth": {"field": "series", "type": "nominal", "scale": {"type": "point", "domain": ["Relative Lightcurve", "Scale Uncertainty"], "range": [1.1, 2.2]}, "legend": {"title": null, "orient": "none", "legendX": 130, "legendY": 4}}}}
  ]},
  {"data": {"values": [{"t": 0.0522, "o": 0, "e": 0.043}]}, "mark": {"type": "errorbar", "color": "blue", "ticks": true, "thickness": 2, "size": 12},
   "encoding": {"x": {"field": "t", "type": "quantitative"},
    "y": {"field": "o", "type": "quantitative", "scale": {"domain": [-0.236, 0.2316], "reverse": true, "nice": false, "zero": false}, "axis": {"labelOverlap": false, "tickCount": 30, "orient": "right", "values": [-0.2,-0.1,0,0.1,0.2], "format": ".1f", "title": "Scale Uncertainty [mag]", "labelColor": "blue", "tickColor": "blue", "titleColor": "blue"}},
    "yError": {"field": "e"}}}
 ]},
{"title": "8014 (1990 MF) - 2020/06/18", "width": 258, "height": 194, "resolve": {"scale": {"y": "independent"}},
 "layer": [
  {"layer": [
   {"data": {"name": "d11"}, "mark": {"type": "errorbar", "color": "black", "thickness": 1.2},
    "encoding": {"x": {"field": "t", "type": "quantitative", "scale": {"domain": [-0.0042, 0.0886], "nice": false, "zero": false}, "axis": {"labelOverlap": false, "tickCount": 30, "values": [0,0.01,0.02,0.03,0.04,0.05,0.06,0.07,0.08], "format": ".2f", "title": "Julian Date (LTC) - 2459019.4220491783"}},
     "y": {"field": "m", "type": "quantitative", "scale": {"domain": [20.254, 20.5115], "reverse": true, "nice": false, "zero": false}, "axis": {"labelOverlap": false, "tickCount": 30, "values": [20.3,20.35,20.4,20.45,20.5], "format": ".2f", "title": "V(1 AU, 1 AU, 36.36°) [mag]"}},
     "yError": {"field": "e"}}},
   {"data": {"name": "d11"}, "mark": {"type": "point", "shape": "circle", "filled": false, "color": "black", "size": 38, "strokeWidth": 1, "opacity": 1},
    "encoding": {"x": {"field": "t", "type": "quantitative"}, "y": {"field": "m", "type": "quantitative"}}},
   {"data": {"name": "leg"}, "mark": {"type": "point", "filled": false, "opacity": 0},
    "encoding": {
     "shape": {"field": "series", "type": "nominal", "scale": {"domain": ["Relative Lightcurve", "Scale Uncertainty"], "range": ["M-0.55,0A0.55,0.55 0 1,1 0.55,0A0.55,0.55 0 1,1 -0.55,0ZM0,-0.72L0,0.72", "M-1,-0.87L1,-0.87M0,-0.87L0,0.87M-1,0.87L1,0.87"]}, "legend": {"title": null, "orient": "none", "legendX": 130, "legendY": 4}},
     "stroke": {"field": "series", "type": "nominal", "scale": {"domain": ["Relative Lightcurve", "Scale Uncertainty"], "range": ["black", "blue"]}, "legend": {"title": null, "orient": "none", "legendX": 130, "legendY": 4}},
     "strokeWidth": {"field": "series", "type": "nominal", "scale": {"type": "point", "domain": ["Relative Lightcurve", "Scale Uncertainty"], "range": [1.1, 2.2]}, "legend": {"title": null, "orient": "none", "legendX": 130, "legendY": 4}}}}
  ]},
  {"data": {"values": [{"t": 0.0859, "o": 0, "e": 0.043}]}, "mark": {"type": "errorbar", "color": "blue", "ticks": true, "thickness": 2, "size": 12},
   "encoding": {"x": {"field": "t", "type": "quantitative"},
    "y": {"field": "o", "type": "quantitative", "scale": {"domain": [-0.129, 0.1285], "reverse": true, "nice": false, "zero": false}, "axis": {"labelOverlap": false, "tickCount": 30, "orient": "right", "values": [-0.1,-0.05,0,0.05,0.1], "format": ".2f", "title": "Scale Uncertainty [mag]", "labelColor": "blue", "tickColor": "blue", "titleColor": "blue"}},
    "yError": {"field": "e"}}}
 ]},
{"title": "8014 (1990 MF) - 2020/06/19", "width": 258, "height": 194, "resolve": {"scale": {"y": "independent"}},
 "layer": [
  {"layer": [
   {"data": {"name": "d12"}, "mark": {"type": "errorbar", "color": "black", "thickness": 1.2},
    "encoding": {"x": {"field": "t", "type": "quantitative", "scale": {"domain": [-0.0045, 0.1016], "nice": false, "zero": false}, "axis": {"labelOverlap": false, "tickCount": 30, "values": [0,0.02,0.04,0.06,0.08], "format": ".2f", "title": "Julian Date (LTC) - 2459020.4225468286"}},
     "y": {"field": "m", "type": "quantitative", "scale": {"domain": [20.3327, 20.5296], "reverse": true, "nice": false, "zero": false}, "axis": {"labelOverlap": false, "tickCount": 30, "values": [20.35,20.375,20.4,20.425,20.45,20.475,20.5,20.525], "format": ".3f", "title": "V(1 AU, 1 AU, 37.95°) [mag]"}},
     "yError": {"field": "e"}}},
   {"data": {"name": "d12"}, "mark": {"type": "point", "shape": "circle", "filled": false, "color": "black", "size": 38, "strokeWidth": 1, "opacity": 1},
    "encoding": {"x": {"field": "t", "type": "quantitative"}, "y": {"field": "m", "type": "quantitative"}}},
   {"data": {"values": [{}]}, "mark": {"type": "rule", "color": "#cfcfcf", "strokeWidth": 1}, "encoding": {"x": {"datum": 0.0951}}},
   {"data": {"name": "leg"}, "mark": {"type": "point", "filled": false, "opacity": 0},
    "encoding": {
     "shape": {"field": "series", "type": "nominal", "scale": {"domain": ["Relative Lightcurve", "Scale Uncertainty"], "range": ["M-0.55,0A0.55,0.55 0 1,1 0.55,0A0.55,0.55 0 1,1 -0.55,0ZM0,-0.72L0,0.72", "M-1,-0.87L1,-0.87M0,-0.87L0,0.87M-1,0.87L1,0.87"]}, "legend": {"title": null, "orient": "none", "legendX": 130, "legendY": 4}},
     "stroke": {"field": "series", "type": "nominal", "scale": {"domain": ["Relative Lightcurve", "Scale Uncertainty"], "range": ["black", "blue"]}, "legend": {"title": null, "orient": "none", "legendX": 130, "legendY": 4}},
     "strokeWidth": {"field": "series", "type": "nominal", "scale": {"type": "point", "domain": ["Relative Lightcurve", "Scale Uncertainty"], "range": [1.1, 2.2]}, "legend": {"title": null, "orient": "none", "legendX": 130, "legendY": 4}}}}
  ]},
  {"data": {"values": [{"t": 0.0989, "o": 0, "e": 0.043}]}, "mark": {"type": "errorbar", "color": "blue", "ticks": true, "thickness": 2, "size": 12},
   "encoding": {"x": {"field": "t", "type": "quantitative"},
    "y": {"field": "o", "type": "quantitative", "scale": {"domain": [-0.0988, 0.0981], "reverse": true, "nice": false, "zero": false}, "axis": {"labelOverlap": false, "tickCount": 30, "orient": "right", "values": [-0.075,-0.05,-0.025,0,0.025,0.05,0.075], "format": ".3f", "title": "Scale Uncertainty [mag]", "labelColor": "blue", "tickColor": "blue", "titleColor": "blue"}},
    "yError": {"field": "e"}}}
 ]},
{"title": "8014 (1990 MF) - 2020/06/20", "width": 258, "height": 194, "resolve": {"scale": {"y": "independent"}},
 "layer": [
  {"layer": [
   {"data": {"name": "d13"}, "mark": {"type": "errorbar", "color": "black", "thickness": 1.2},
    "encoding": {"x": {"field": "t", "type": "quantitative", "scale": {"domain": [-0.0042, 0.0892], "nice": false, "zero": false}, "axis": {"labelOverlap": false, "tickCount": 30, "values": [0,0.01,0.02,0.03,0.04,0.05,0.06,0.07,0.08], "format": ".2f", "title": "Julian Date (LTC) - 2459021.421597784"}},
     "y": {"field": "m", "type": "quantitative", "scale": {"domain": [20.328, 20.4657], "reverse": true, "nice": false, "zero": false}, "axis": {"labelOverlap": false, "tickCount": 30, "values": [20.34,20.36,20.38,20.4,20.42,20.44,20.46], "format": ".2f", "title": "V(1 AU, 1 AU, 39.61°) [mag]"}},
     "yError": {"field": "e"}}},
   {"data": {"name": "d13"}, "mark": {"type": "point", "shape": "circle", "filled": false, "color": "black", "size": 38, "strokeWidth": 1, "opacity": 1},
    "encoding": {"x": {"field": "t", "type": "quantitative"}, "y": {"field": "m", "type": "quantitative"}}},
   {"data": {"values": [{}]}, "mark": {"type": "rule", "color": "#cfcfcf", "strokeWidth": 1}, "encoding": {"x": {"datum": 0.0837}}},
   {"data": {"name": "leg"}, "mark": {"type": "point", "filled": false, "opacity": 0},
    "encoding": {
     "shape": {"field": "series", "type": "nominal", "scale": {"domain": ["Relative Lightcurve", "Scale Uncertainty"], "range": ["M-0.55,0A0.55,0.55 0 1,1 0.55,0A0.55,0.55 0 1,1 -0.55,0ZM0,-0.72L0,0.72", "M-1,-0.87L1,-0.87M0,-0.87L0,0.87M-1,0.87L1,0.87"]}, "legend": {"title": null, "orient": "none", "legendX": 130, "legendY": 4}},
     "stroke": {"field": "series", "type": "nominal", "scale": {"domain": ["Relative Lightcurve", "Scale Uncertainty"], "range": ["black", "blue"]}, "legend": {"title": null, "orient": "none", "legendX": 130, "legendY": 4}},
     "strokeWidth": {"field": "series", "type": "nominal", "scale": {"type": "point", "domain": ["Relative Lightcurve", "Scale Uncertainty"], "range": [1.1, 2.2]}, "legend": {"title": null, "orient": "none", "legendX": 130, "legendY": 4}}}}
  ]},
  {"data": {"values": [{"t": 0.0872, "o": 0, "e": 0.0426}]}, "mark": {"type": "errorbar", "color": "blue", "ticks": true, "thickness": 2, "size": 12},
   "encoding": {"x": {"field": "t", "type": "quantitative"},
    "y": {"field": "o", "type": "quantitative", "scale": {"domain": [-0.069, 0.0687], "reverse": true, "nice": false, "zero": false}, "axis": {"labelOverlap": false, "tickCount": 30, "orient": "right", "values": [-0.06,-0.04,-0.02,0,0.02,0.04,0.06], "format": ".2f", "title": "Scale Uncertainty [mag]", "labelColor": "blue", "tickColor": "blue", "titleColor": "blue"}},
    "yError": {"field": "e"}}}
 ]},
{"title": "8014 (1990 MF) - 2020/06/23", "width": 258, "height": 194, "resolve": {"scale": {"y": "independent"}},
 "layer": [
  {"layer": [
   {"data": {"name": "d14"}, "mark": {"type": "errorbar", "color": "black", "thickness": 1.2},
    "encoding": {"x": {"field": "t", "type": "quantitative", "scale": {"domain": [-0.002, 0.0408], "nice": false, "zero": false}, "axis": {"labelOverlap": false, "tickCount": 30, "values": [0,0.01,0.02,0.03,0.04], "format": ".2f", "title": "Julian Date (LTC) - 2459024.4217339214"}},
     "y": {"field": "m", "type": "quantitative", "scale": {"domain": [20.5155, 20.6406], "reverse": true, "nice": false, "zero": false}, "axis": {"labelOverlap": false, "tickCount": 30, "values": [20.52,20.54,20.56,20.58,20.6,20.62,20.64], "format": ".2f", "title": "V(1 AU, 1 AU, 44.66°) [mag]"}},
     "yError": {"field": "e"}}},
   {"data": {"name": "d14"}, "mark": {"type": "point", "shape": "circle", "filled": false, "color": "black", "size": 38, "strokeWidth": 1, "opacity": 1},
    "encoding": {"x": {"field": "t", "type": "quantitative"}, "y": {"field": "m", "type": "quantitative"}}},
   {"data": {"name": "leg"}, "mark": {"type": "point", "filled": false, "opacity": 0},
    "encoding": {
     "shape": {"field": "series", "type": "nominal", "scale": {"domain": ["Relative Lightcurve", "Scale Uncertainty"], "range": ["M-0.55,0A0.55,0.55 0 1,1 0.55,0A0.55,0.55 0 1,1 -0.55,0ZM0,-0.72L0,0.72", "M-1,-0.87L1,-0.87M0,-0.87L0,0.87M-1,0.87L1,0.87"]}, "legend": {"title": null, "orient": "none", "legendX": 130, "legendY": 4}},
     "stroke": {"field": "series", "type": "nominal", "scale": {"domain": ["Relative Lightcurve", "Scale Uncertainty"], "range": ["black", "blue"]}, "legend": {"title": null, "orient": "none", "legendX": 130, "legendY": 4}},
     "strokeWidth": {"field": "series", "type": "nominal", "scale": {"type": "point", "domain": ["Relative Lightcurve", "Scale Uncertainty"], "range": [1.1, 2.2]}, "legend": {"title": null, "orient": "none", "legendX": 130, "legendY": 4}}}}
  ]},
  {"data": {"values": [{"t": 0.0397, "o": 0, "e": 0.0426}]}, "mark": {"type": "errorbar", "color": "blue", "ticks": true, "thickness": 2, "size": 12},
   "encoding": {"x": {"field": "t", "type": "quantitative"},
    "y": {"field": "o", "type": "quantitative", "scale": {"domain": [-0.0645, 0.0606], "reverse": true, "nice": false, "zero": false}, "axis": {"labelOverlap": false, "tickCount": 30, "orient": "right", "values": [-0.06,-0.04,-0.02,0,0.02,0.04,0.06], "format": ".2f", "title": "Scale Uncertainty [mag]", "labelColor": "blue", "tickColor": "blue", "titleColor": "blue"}},
    "yError": {"field": "e"}}}
 ]},
{"title": "8014 (1990 MF) - 2020/06/25", "width": 258, "height": 194, "resolve": {"scale": {"y": "independent"}},
 "layer": [
  {"layer": [
   {"data": {"name": "d15"}, "mark": {"type": "errorbar", "color": "black", "thickness": 1.2},
    "encoding": {"x": {"field": "t", "type": "quantitative", "scale": {"domain": [-0.0059, 0.1337], "nice": false, "zero": false}, "axis": {"labelOverlap": false, "tickCount": 30, "values": [0,0.02,0.04,0.06,0.08,0.1,0.12], "format": ".2f", "title": "Julian Date (LTC) - 2459026.4256207733"}},
     "y": {"field": "m", "type": "quantitative", "scale": {"domain": [20.5605, 20.7606], "reverse": true, "nice": false, "zero": false}, "axis": {"labelOverlap": false, "tickCount": 30, "values": [20.575,20.6,20.625,20.65,20.675,20.7,20.725,20.75], "format": ".3f", "title": "V(1 AU, 1 AU, 48.30°) [mag]"}},
     "yError": {"field": "e"}}},
   {"data": {"name": "d15"}, "mark": {"type": "point", "shape": "circle", "filled": false, "color": "black", "size": 38, "strokeWidth": 1, "opacity": 1},
    "encoding": {"x": {"field": "t", "type": "quantitative"}, "y": {"field": "m", "type": "quantitative"}}},
   {"data": {"values": [{}]}, "mark": {"type": "rule", "color": "#cfcfcf", "strokeWidth": 1}, "encoding": {"x": {"datum": 0.1249}}},
   {"data": {"name": "leg"}, "mark": {"type": "point", "filled": false, "opacity": 0},
    "encoding": {
     "shape": {"field": "series", "type": "nominal", "scale": {"domain": ["Relative Lightcurve", "Scale Uncertainty"], "range": ["M-0.55,0A0.55,0.55 0 1,1 0.55,0A0.55,0.55 0 1,1 -0.55,0ZM0,-0.72L0,0.72", "M-1,-0.87L1,-0.87M0,-0.87L0,0.87M-1,0.87L1,0.87"]}, "legend": {"title": null, "orient": "none", "legendX": 130, "legendY": 4}},
     "stroke": {"field": "series", "type": "nominal", "scale": {"domain": ["Relative Lightcurve", "Scale Uncertainty"], "range": ["black", "blue"]}, "legend": {"title": null, "orient": "none", "legendX": 130, "legendY": 4}},
     "strokeWidth": {"field": "series", "type": "nominal", "scale": {"type": "point", "domain": ["Relative Lightcurve", "Scale Uncertainty"], "range": [1.1, 2.2]}, "legend": {"title": null, "orient": "none", "legendX": 130, "legendY": 4}}}}
  ]},
  {"data": {"values": [{"t": 0.1295, "o": 0, "e": 0.043}]}, "mark": {"type": "errorbar", "color": "blue", "ticks": true, "thickness": 2, "size": 12},
   "encoding": {"x": {"field": "t", "type": "quantitative"},
    "y": {"field": "o", "type": "quantitative", "scale": {"domain": [-0.1002, 0.1002], "reverse": true, "nice": false, "zero": false}, "axis": {"labelOverlap": false, "tickCount": 30, "orient": "right", "values": [-0.1,-0.075,-0.05,-0.025,0,0.025,0.05,0.075,0.1], "format": ".3f", "title": "Scale Uncertainty [mag]", "labelColor": "blue", "tickColor": "blue", "titleColor": "blue"}},
    "yError": {"field": "e"}}}
 ]}
],
"config": {
 "font": "DejaVu Sans",
 "view": {"stroke": "black", "strokeWidth": 1},
 "axis": {"domain": false, "grid": false, "tickSize": 3.5, "tickWidth": 1, "tickColor": "black", "labelFont": "DejaVu Sans", "labelFontSize": 8.3, "labelColor": "#1a1a1a", "labelPadding": 2, "titleFont": "DejaVu Sans", "titleFontSize": 8.3, "titleFontWeight": "normal", "titleColor": "#1a1a1a", "titlePadding": 4, "labelFlush": false, "labelOverlap": false},
 "axisX": {"titleX": 121.5, "titlePadding": 3},
 "title": {"font": "DejaVu Sans", "fontSize": 10, "fontWeight": "normal", "color": "black", "offset": 3, "dx": -8},
 "legend": {"labelFont": "DejaVu Sans", "labelFontSize": 8.3, "labelColor": "#111111", "symbolSize": 150, "padding": 1.5, "rowPadding": 0, "symbolOffset": 4.8, "labelOffset": 8.2, "strokeColor": "#cccccc", "fillColor": "rgba(255,255,255,0.8)", "cornerRadius": 2, "symbolOpacity": 1, "symbolFillColor": "transparent", "labelLimit": 200}
}
}
